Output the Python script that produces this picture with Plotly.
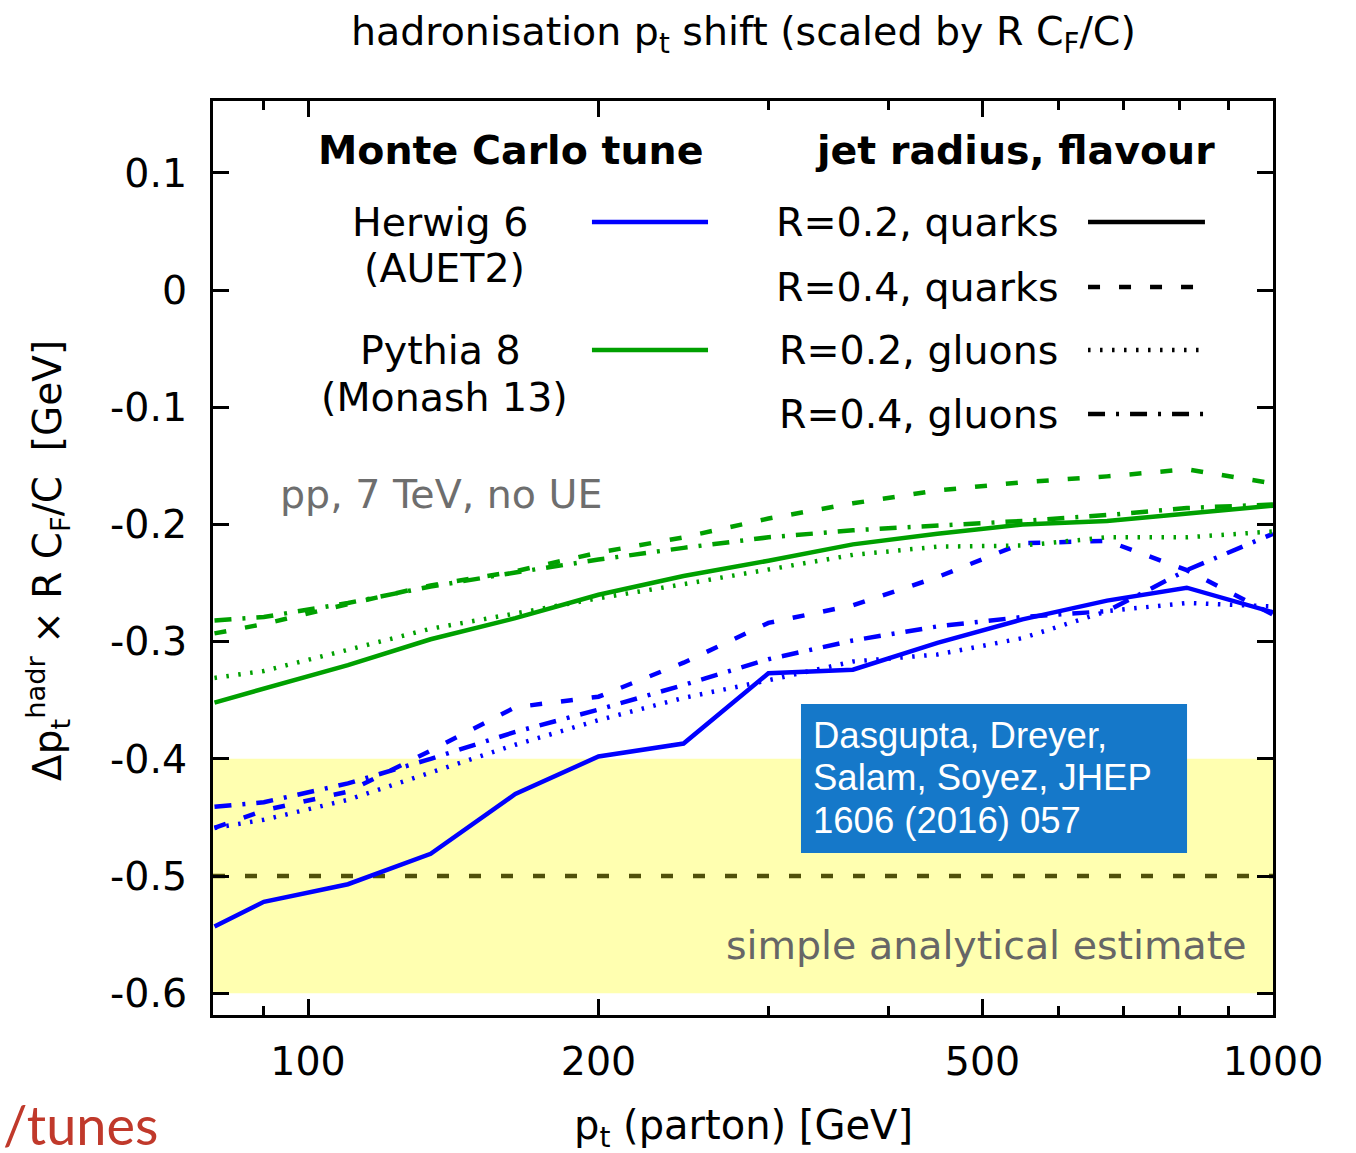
import plotly.graph_objects as go

# parton transverse momentum [GeV]
pt = [80, 90, 110, 134, 164, 200, 245, 300, 367, 449, 550, 673, 814, 1000]

# hadronisation pt shift (scaled by R CF/C) [GeV]
herwig_q02 = [-0.543, -0.522, -0.507, -0.481, -0.430, -0.398, -0.387, -0.327, -0.324, -0.301, -0.281, -0.265, -0.254, -0.275]
herwig_q04 = [-0.459, -0.444, -0.428, -0.393, -0.356, -0.347, -0.318, -0.284, -0.269, -0.245, -0.216, -0.214, -0.239, -0.277]
herwig_g02 = [-0.459, -0.452, -0.435, -0.412, -0.388, -0.367, -0.348, -0.333, -0.317, -0.311, -0.297, -0.274, -0.267, -0.270]
herwig_g04 = [-0.441, -0.437, -0.421, -0.400, -0.377, -0.358, -0.337, -0.315, -0.299, -0.287, -0.279, -0.274, -0.239, -0.208]

pythia_q02 = [-0.352, -0.340, -0.320, -0.298, -0.280, -0.260, -0.244, -0.231, -0.217, -0.208, -0.200, -0.197, -0.191, -0.184]
pythia_q04 = [-0.293, -0.285, -0.268, -0.252, -0.240, -0.224, -0.211, -0.195, -0.182, -0.171, -0.164, -0.159, -0.153, -0.165]
pythia_g02 = [-0.331, -0.325, -0.307, -0.289, -0.276, -0.263, -0.251, -0.238, -0.226, -0.219, -0.218, -0.211, -0.211, -0.206]
pythia_g04 = [-0.282, -0.279, -0.267, -0.253, -0.241, -0.230, -0.220, -0.211, -0.205, -0.201, -0.197, -0.192, -0.186, -0.183]

# simple analytical estimate: central value and band
estimate_central = -0.5
estimate_band = (-0.6, -0.4)

x_major = [100, 200, 500, 1000]
x_minor = [90, 300, 400, 600, 700, 800, 900]
y_ticks = [0.1, 0.0, -0.1, -0.2, -0.3, -0.4, -0.5, -0.6]
y_ticktext = ["0.1", "0", "-0.1", "-0.2", "-0.3", "-0.4", "-0.5", "-0.6"]

BLUE = "#0000ff"
GREEN = "#00a000"
FONT = "DejaVu Sans"
FS = 39.5
LW = 4.5

DASHES = {
    "solid": "solid",
    "dash": "12px,19px",
    "dot": "2.5px,9.5px",
    "dashdot": "17px,11px,3px,11px",
}

series = [
    (herwig_q02, BLUE, "solid"),
    (herwig_q04, BLUE, "dash"),
    (herwig_g02, BLUE, "dot"),
    (herwig_g04, BLUE, "dashdot"),
    (pythia_q02, GREEN, "solid"),
    (pythia_q04, GREEN, "dash"),
    (pythia_g02, GREEN, "dot"),
    (pythia_g04, GREEN, "dashdot"),
]

fig = go.Figure()

for values, colour, style in series:
    fig.add_trace(go.Scatter(
        x=pt, y=values, mode="lines",
        line=dict(color=colour, width=LW, dash=DASHES[style]),
        showlegend=False, hoverinfo="skip",
    ))


def label(text, x, y, xanchor="center", size=FS, color="black", family=FONT, **kw):
    fig.add_annotation(xref="paper", yref="paper", x=x, y=y,
                       xanchor=xanchor, yanchor="middle", showarrow=False,
                       text=text, font=dict(family=family, size=size, color=color), **kw)


# yellow band and dashed central line of the analytical estimate
fig.add_shape(type="rect", xref="paper", yref="y", x0=0, x1=1,
              y0=estimate_band[0], y1=estimate_band[1],
              fillcolor="#ffffb0", line=dict(width=0), layer="below")
fig.add_shape(type="line", xref="paper", yref="y", x0=0, x1=1,
              y0=estimate_central, y1=estimate_central,
              line=dict(color="#50500a", width=LW, dash="12px,20px"), layer="below")

# reference box
fig.add_shape(type="rect", xref="paper", yref="paper",
              x0=0.5547, x1=0.9189, y0=0.1772, y1=0.3403,
              fillcolor="#1578c9", line=dict(width=0), layer="above")
for line_text, yy in [("Dasgupta, Dreyer,", 0.3053),
                      ("Salam, Soyez, JHEP", 0.2593),
                      ("1606 (2016) 057", 0.2133)]:
    label(line_text, 0.5642, yy, xanchor="left", size=36.5, color="white",
          family="Liberation Sans")

# key: generator tunes (colour) and jet radius / flavour (line style)
label("<b>Monte Carlo tune</b>", 0.2802, 0.9464)
label("<b>jet radius, flavour</b>", 0.7566, 0.9464)

tunes = [("Herwig 6", "(AUET2)", BLUE, 0.8676, 0.8173),
         ("Pythia 8", "(Monash 13)", GREEN, 0.7276, 0.6761)]
for name, tune, colour, y1, y2 in tunes:
    label(name, 0.2142, y1)
    label(tune, 0.2180, y2)
    fig.add_shape(type="line", xref="paper", yref="paper", x0=0.3575, x1=0.4670,
                  y0=y1, y1=y1, line=dict(color=colour, width=LW))

styles = [("R=0.2, quarks", "solid", 0.8676),
          ("R=0.4, quarks", "dash", 0.7965),
          ("R=0.2, gluons", "dot", 0.7276),
          ("R=0.4, gluons", "dashdot", 0.6575)]
for text, style, yy in styles:
    label(text, 0.7995, yy, xanchor="right")
    fig.add_shape(type="line", xref="paper", yref="paper", x0=0.8255, x1=0.9358,
                  y0=yy, y1=yy, line=dict(color="black", width=LW, dash=DASHES[style]))

label("pp, 7 TeV, no UE", 0.0613, 0.570, xanchor="left", color="#6e6e6e")
label("simple analytical estimate", 0.9764, 0.0766, xanchor="right", color="#666666")

# titles
label("hadronisation p<sub>t</sub> shift (scaled by R C<sub>F</sub>/C)", 0.5, 1.0733)
label("p<sub>t</sub> (parton) [GeV]", 0.5, -0.1236, size=40)
label("Δp<sub>t</sub><sup>hadr</sup> × R C<sub>F</sub>/C  [GeV]", -0.1557, 0.4978,
      size=39, textangle=-90)
label("/tunes", -0.05, -0.1203, xanchor="right", size=54, color="#c0392b", family="Lato")

fig.update_layout(
    width=1356, height=1153,
    margin=dict(l=213, r=83, t=101, b=138, pad=0),
    paper_bgcolor="white", plot_bgcolor="white",
    xaxis=dict(
        type="log", range=[1.90155, 3.0],
        tickvals=x_major, ticktext=[str(v) for v in x_major],
        ticks="inside", ticklen=16, tickwidth=3, tickcolor="black",
        minor=dict(tickvals=x_minor, ticks="inside", ticklen=9, tickwidth=3,
                   tickcolor="black", showgrid=False),
        showline=True, linewidth=3, linecolor="black", mirror="ticks",
        showgrid=False, zeroline=False,
        tickfont=dict(family=FONT, size=FS, color="black"),
        ticklabelstandoff=10,
    ),
    yaxis=dict(
        range=[-0.6186, 0.1613],
        tickvals=y_ticks, ticktext=y_ticktext,
        ticks="inside", ticklen=16, tickwidth=3, tickcolor="black",
        showline=True, linewidth=3, linecolor="black", mirror="ticks",
        showgrid=False, zeroline=False,
        tickfont=dict(family=FONT, size=FS, color="black"),
        ticklabelstandoff=15,
    ),
)

fig.write_html("out.html")
